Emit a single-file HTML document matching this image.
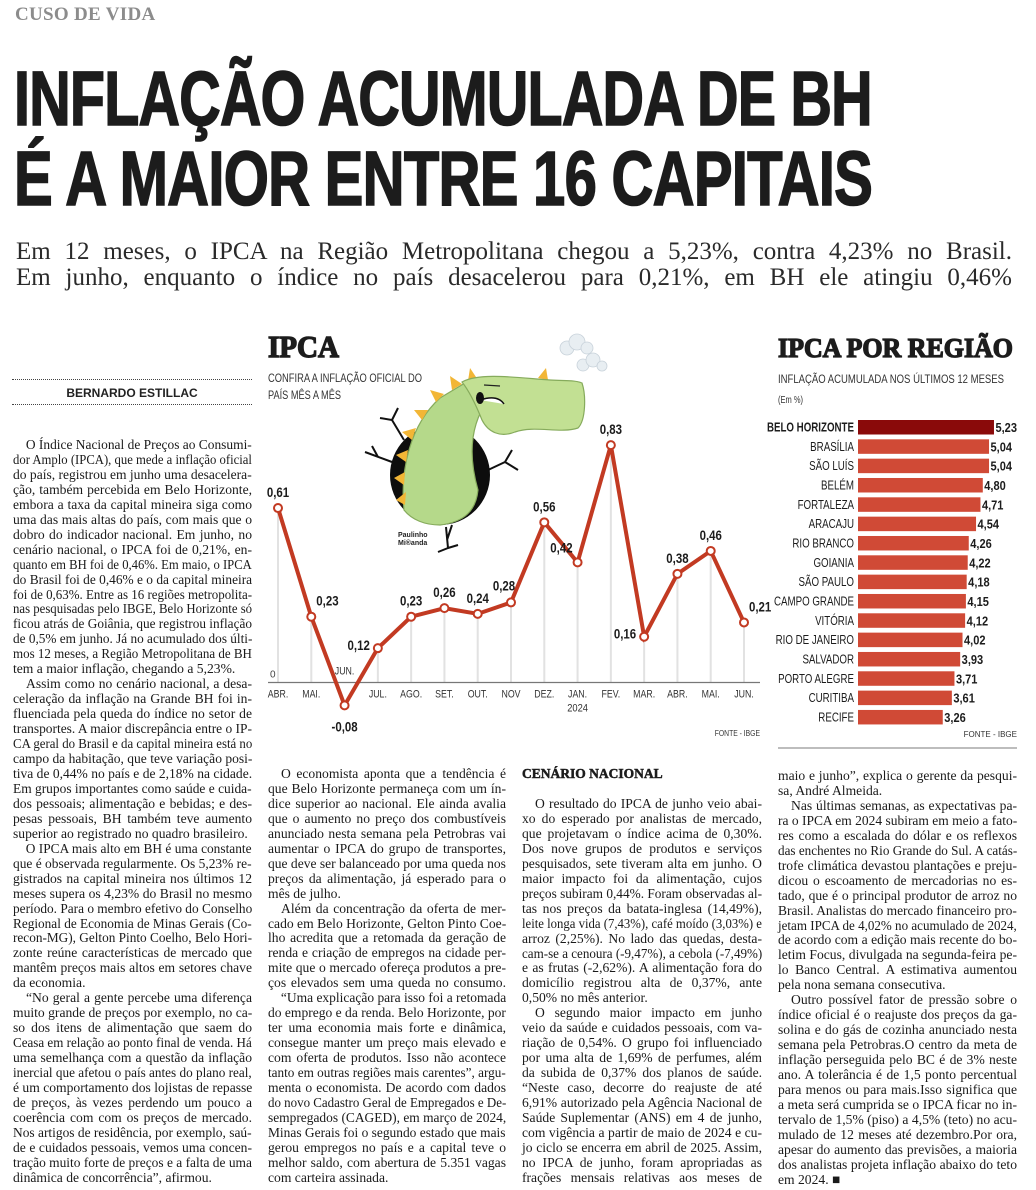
<!DOCTYPE html>
<html lang="pt-BR"><head><meta charset="utf-8"><title>Inflação acumulada de BH</title>
<style>
html,body{margin:0;padding:0;background:#fff;}
body{width:1036px;height:1190px;position:relative;overflow:hidden;}
.abs{position:absolute;}
.ln{white-space:nowrap;transform-origin:0 0;overflow:visible;}
.j{text-align:justify;text-align-last:justify;}
.in{padding-left:13px;box-sizing:border-box;}
.col{position:absolute;font-family:"Liberation Serif",serif;font-size:13.6px;line-height:14.95px;color:#1a1a1a;}
.sub{font-family:"Liberation Serif",serif;font-size:25px;line-height:26px;color:#2a2a2a;}
.hl{font-family:"Liberation Sans",sans-serif;font-weight:bold;font-size:77px;line-height:77px;color:#1c1c1c;letter-spacing:-1px;-webkit-text-stroke:1.6px #1c1c1c;}
svg text{font-family:"Liberation Sans",sans-serif;}
</style></head>
<body>

<div class="abs" style="left:15px;top:4px;font-family:'Liberation Serif',serif;font-weight:bold;font-size:19px;color:#8c8c8c;letter-spacing:0.3px">CUSO DE VIDA</div>

<div class="abs ln j hl" style="left:14px;top:61px;width:858px">INFLAÇÃO ACUMULADA DE BH</div>
<div class="abs ln j hl" style="left:14px;top:141px;width:858px">É A MAIOR ENTRE 16 CAPITAIS</div>

<div class="abs ln j sub" style="left:16px;top:239px;width:996px">Em 12 meses, o IPCA na Região Metropolitana chegou a 5,23%, contra 4,23% no Brasil.</div>
<div class="abs ln j sub" style="left:16px;top:265px;width:996px">Em junho, enquanto o índice no país desacelerou para 0,21%, em BH ele atingiu 0,46%</div>

<div class="abs" style="left:12px;top:379px;width:240px;border-top:1.5px dotted #444"></div>
<div class="abs" style="left:12px;top:386px;width:240px;text-align:center;font-family:'Liberation Sans',sans-serif;font-weight:bold;font-size:12px;color:#222">BERNARDO ESTILLAC</div>
<div class="abs" style="left:12px;top:404px;width:240px;border-top:1.5px dotted #444"></div>

<!-- Column 1 -->
<div class="col" style="left:13px;top:438px;width:239px">
<div>
<div class="ln j in">O Índice Nacional de Preços ao Consumi-</div>
<div class="ln j">dor Amplo (IPCA), que mede a inflação oficial</div>
<div class="ln j">do país, registrou em junho uma desacelera-</div>
<div class="ln j">ção, também percebida em Belo Horizonte,</div>
<div class="ln j">embora a taxa da capital mineira siga como</div>
<div class="ln j">uma das mais altas do país, com mais que o</div>
<div class="ln j">dobro do indicador nacional. Em junho, no</div>
<div class="ln j">cenário nacional, o IPCA foi de 0,21%, en-</div>
<div class="ln j">quanto em BH foi de 0,46%. Em maio, o IPCA</div>
<div class="ln j">do Brasil foi de 0,46% e o da capital mineira</div>
<div class="ln j">foi de 0,63%. Entre as 16 regiões metropolita-</div>
<div class="ln j">nas pesquisadas pelo IBGE, Belo Horizonte só</div>
<div class="ln j">ficou atrás de Goiânia, que registrou inflação</div>
<div class="ln j">de 0,5% em junho. Já no acumulado dos últi-</div>
<div class="ln j">mos 12 meses, a Região Metropolitana de BH</div>
<div class="ln">tem a maior inflação, chegando a 5,23%.</div>
</div>
<div>
<div class="ln j in">Assim como no cenário nacional, a desa-</div>
<div class="ln j">celeração da inflação na Grande BH foi in-</div>
<div class="ln j">fluenciada pela queda do índice no setor de</div>
<div class="ln j">transportes. A maior discrepância entre o IP-</div>
<div class="ln j">CA geral do Brasil e da capital mineira está no</div>
<div class="ln j">campo da habitação, que teve variação posi-</div>
<div class="ln j">tiva de 0,44% no país e de 2,18% na cidade.</div>
<div class="ln j">Em grupos importantes como saúde e cuida-</div>
<div class="ln j">dos pessoais; alimentação e bebidas; e des-</div>
<div class="ln j">pesas pessoais, BH também teve aumento</div>
<div class="ln">superior ao registrado no quadro brasileiro.</div>
</div>
<div>
<div class="ln j in">O IPCA mais alto em BH é uma constante</div>
<div class="ln j">que é observada regularmente. Os 5,23% re-</div>
<div class="ln j">gistrados na capital mineira nos últimos 12</div>
<div class="ln j">meses supera os 4,23% do Brasil no mesmo</div>
<div class="ln j">período. Para o membro efetivo do Conselho</div>
<div class="ln j">Regional de Economia de Minas Gerais (Co-</div>
<div class="ln j">recon-MG), Gelton Pinto Coelho, Belo Hori-</div>
<div class="ln j">zonte reúne características de mercado que</div>
<div class="ln j">mantêm preços mais altos em setores chave</div>
<div class="ln">da economia.</div>
</div>
<div>
<div class="ln j in">“No geral a gente percebe uma diferença</div>
<div class="ln j">muito grande de preços por exemplo, no ca-</div>
<div class="ln j">so dos itens de alimentação que saem do</div>
<div class="ln j">Ceasa em relação ao ponto final de venda. Há</div>
<div class="ln j">uma semelhança com a questão da inflação</div>
<div class="ln j">inercial que afetou o país antes do plano real,</div>
<div class="ln j">é um comportamento dos lojistas de repasse</div>
<div class="ln j">de preços, às vezes perdendo um pouco a</div>
<div class="ln j">coerência com com os preços de mercado.</div>
<div class="ln j">Nos artigos de residência, por exemplo, saú-</div>
<div class="ln j">de e cuidados pessoais, vemos uma concen-</div>
<div class="ln j">tração muito forte de preços e a falta de uma</div>
<div class="ln">dinâmica de concorrência”, afirmou.</div>
</div>
</div>

<!-- Column 2 -->
<div class="col" style="left:268px;top:767px;width:238px">
<div>
<div class="ln j in">O economista aponta que a tendência é</div>
<div class="ln j">que Belo Horizonte permaneça com um ín-</div>
<div class="ln j">dice superior ao nacional. Ele ainda avalia</div>
<div class="ln j">que o aumento no preço dos combustíveis</div>
<div class="ln j">anunciado nesta semana pela Petrobras vai</div>
<div class="ln j">aumentar o IPCA do grupo de transportes,</div>
<div class="ln j">que deve ser balanceado por uma queda nos</div>
<div class="ln j">preços da alimentação, já esperado para o</div>
<div class="ln">mês de julho.</div>
</div>
<div>
<div class="ln j in">Além da concentração da oferta de mer-</div>
<div class="ln j">cado em Belo Horizonte, Gelton Pinto Coe-</div>
<div class="ln j">lho acredita que a retomada da geração de</div>
<div class="ln j">renda e criação de empregos na cidade per-</div>
<div class="ln j">mite que o mercado ofereça produtos a pre-</div>
<div class="ln j">ços elevados sem uma queda no consumo.</div>
</div>
<div>
<div class="ln j in">“Uma explicação para isso foi a retomada</div>
<div class="ln j">do emprego e da renda. Belo Horizonte, por</div>
<div class="ln j">ter uma economia mais forte e dinâmica,</div>
<div class="ln j">consegue manter um preço mais elevado e</div>
<div class="ln j">com oferta de produtos. Isso não acontece</div>
<div class="ln j">tanto em outras regiões mais carentes”, argu-</div>
<div class="ln j">menta o economista. De acordo com dados</div>
<div class="ln j">do novo Cadastro Geral de Empregados e De-</div>
<div class="ln j">sempregados (CAGED), em março de 2024,</div>
<div class="ln j">Minas Gerais foi o segundo estado que mais</div>
<div class="ln j">gerou empregos no país e a capital teve o</div>
<div class="ln j">melhor saldo, com abertura de 5.351 vagas</div>
<div class="ln">com carteira assinada.</div>
</div>
</div>

<!-- Column 3 -->
<div class="abs" style="left:522px;top:766px;font-family:'Liberation Serif',serif;font-weight:bold;font-size:13.5px;color:#1c1c1c;-webkit-text-stroke:0.5px #1c1c1c">CENÁRIO NACIONAL</div>
<div class="col" style="left:522px;top:797px;width:240px">
<div>
<div class="ln j in">O resultado do IPCA de junho veio abai-</div>
<div class="ln j">xo do esperado por analistas de mercado,</div>
<div class="ln j">que projetavam o índice acima de 0,30%.</div>
<div class="ln j">Dos nove grupos de produtos e serviços</div>
<div class="ln j">pesquisados, sete tiveram alta em junho. O</div>
<div class="ln j">maior impacto foi da alimentação, cujos</div>
<div class="ln j">preços subiram 0,44%. Foram observadas al-</div>
<div class="ln j">tas nos preços da batata-inglesa (14,49%),</div>
<div class="ln j">leite longa vida (7,43%), café moído (3,03%) e</div>
<div class="ln j">arroz (2,25%). No lado das quedas, desta-</div>
<div class="ln j">cam-se a cenoura (-9,47%), a cebola (-7,49%)</div>
<div class="ln j">e as frutas (-2,62%). A alimentação fora do</div>
<div class="ln j">domicílio registrou alta de 0,37%, ante</div>
<div class="ln">0,50% no mês anterior.</div>
</div>
<div>
<div class="ln j in">O segundo maior impacto em junho</div>
<div class="ln j">veio da saúde e cuidados pessoais, com va-</div>
<div class="ln j">riação de 0,54%. O grupo foi influenciado</div>
<div class="ln j">por uma alta de 1,69% de perfumes, além</div>
<div class="ln j">da subida de 0,37% dos planos de saúde.</div>
<div class="ln j">“Neste caso, decorre do reajuste de até</div>
<div class="ln j">6,91% autorizado pela Agência Nacional de</div>
<div class="ln j">Saúde Suplementar (ANS) em 4 de junho,</div>
<div class="ln j">com vigência a partir de maio de 2024 e cu-</div>
<div class="ln j">jo ciclo se encerra em abril de 2025. Assim,</div>
<div class="ln j">no IPCA de junho, foram apropriadas as</div>
<div class="ln j">frações mensais relativas aos meses de</div>
</div>
</div>

<!-- Column 4 -->
<div class="col" style="left:778px;top:769px;width:239px">
<div>
<div class="ln j">maio e junho”, explica o gerente da pesqui-</div>
<div class="ln">sa, André Almeida.</div>
</div>
<div>
<div class="ln j in">Nas últimas semanas, as expectativas pa-</div>
<div class="ln j">ra o IPCA em 2024 subiram em meio a fato-</div>
<div class="ln j">res como a escalada do dólar e os reflexos</div>
<div class="ln j">das enchentes no Rio Grande do Sul. A catás-</div>
<div class="ln j">trofe climática devastou plantações e preju-</div>
<div class="ln j">dicou o escoamento de mercadorias no es-</div>
<div class="ln j">tado, que é o principal produtor de arroz no</div>
<div class="ln j">Brasil. Analistas do mercado financeiro pro-</div>
<div class="ln j">jetam IPCA de 4,02% no acumulado de 2024,</div>
<div class="ln j">de acordo com a edição mais recente do bo-</div>
<div class="ln j">letim Focus, divulgada na segunda-feira pe-</div>
<div class="ln j">lo Banco Central. A estimativa aumentou</div>
<div class="ln">pela nona semana consecutiva.</div>
</div>
<div>
<div class="ln j in">Outro possível fator de pressão sobre o</div>
<div class="ln j">índice oficial é o reajuste dos preços da ga-</div>
<div class="ln j">solina e do gás de cozinha anunciado nesta</div>
<div class="ln j">semana pela Petrobras.O centro da meta de</div>
<div class="ln j">inflação perseguida pelo BC é de 3% neste</div>
<div class="ln j">ano. A tolerância é de 1,5 ponto percentual</div>
<div class="ln j">para menos ou para mais.Isso significa que</div>
<div class="ln j">a meta será cumprida se o IPCA ficar no in-</div>
<div class="ln j">tervalo de 1,5% (piso) a 4,5% (teto) no acu-</div>
<div class="ln j">mulado de 12 meses até dezembro.Por ora,</div>
<div class="ln j">apesar do aumento das previsões, a maioria</div>
<div class="ln j">dos analistas projeta inflação abaixo do teto</div>
<div class="ln">em 2024. ■</div>
</div>
</div>

<svg id="charts" class="abs" style="left:0;top:0" width="1036" height="760" viewBox="0 0 1036 760">
  <text x="268" y="357" style="font-family:'Liberation Serif',serif" font-weight="bold" font-size="31" stroke="#1c1c1c" stroke-width="1.4" fill="#1c1c1c" textLength="71" lengthAdjust="spacingAndGlyphs">IPCA</text>
  <text x="268" y="382" font-size="12" fill="#333" textLength="154" lengthAdjust="spacingAndGlyphs">CONFIRA A INFLAÇÃO OFICIAL DO</text>
  <text x="268" y="399" font-size="12" fill="#333" textLength="73" lengthAdjust="spacingAndGlyphs">PAÍS MÊS A MÊS</text>

  <g>
    <g stroke="#111" stroke-width="2" fill="none">
      <path d="M392,462 L365,452 M378,457 L372,446 M404,440 L392,420 L380,418 M392,420 L398,408"/>
      <path d="M488,470 L505,462 L512,450 M505,462 L518,470"/>
      <path d="M446,527 L448,548 L438,552 M448,548 L458,545 M447,540 L452,525"/>
    </g>
    <circle cx="440" cy="475" r="50" fill="#0d0d0d"/>
    <path d="M404,510 C400,470 410,425 440,398 L470,380 L488,400 C470,425 468,455 478,490 C476,510 465,522 440,525 C425,525 412,520 404,510 Z" fill="#b5d98a" stroke="#86ab5c" stroke-width="1.2"/>
    <g fill="#f2b636">
      <path d="M405,505 L396,500 L406,492 Z"/><path d="M404,485 L394,478 L405,472 Z"/><path d="M406,462 L396,455 L408,450 Z"/><path d="M412,440 L402,432 L416,428 Z"/><path d="M422,420 L414,410 L428,410 Z"/><path d="M436,402 L430,390 L444,394 Z"/><path d="M452,390 L450,376 L462,384 Z"/><path d="M468,381 L470,368 L478,380 Z"/><path d="M538,378 L546,368 L548,380 Z"/>
    </g>
    <path d="M462,382 C480,372 520,378 550,380 C565,381 575,380 582,383 C586,395 586,420 578,428 C560,434 535,425 515,432 C500,438 488,432 482,420 C476,405 470,392 462,382 Z" fill="#c2e093" stroke="#86ab5c" stroke-width="1.2"/>
    <path d="M480,400 C492,396 500,398 504,404" stroke="#111" stroke-width="1.5" fill="#fff"/>
    <ellipse cx="480" cy="398" rx="4" ry="6" fill="#111"/>
    <path d="M484,385 L500,386" stroke="#222" stroke-width="1.2"/>
    <g fill="#e8eef2" stroke="#c8d2da" stroke-width="0.8">
      <circle cx="567" cy="348" r="7"/><circle cx="577" cy="342" r="8"/><circle cx="587" cy="348" r="6"/>
      <circle cx="583" cy="365" r="6"/><circle cx="593" cy="360" r="7"/><circle cx="602" cy="366" r="5"/>
    </g>
    <text x="398" y="537" font-size="7" font-weight="bold" fill="#222">Paulinho</text>
    <text x="398" y="545" font-size="7" font-weight="bold" fill="#222">Mi®anda</text>
  </g>

  <g id="lineChart"></g>

  <text x="778" y="357" style="font-family:'Liberation Serif',serif" font-weight="bold" font-size="27" stroke="#1c1c1c" stroke-width="1.3" fill="#1c1c1c" textLength="235" lengthAdjust="spacingAndGlyphs">IPCA POR REGIÃO</text>
  <text x="778" y="383" font-size="12" fill="#333" textLength="226" lengthAdjust="spacingAndGlyphs">INFLAÇÃO  ACUMULADA NOS ÚLTIMOS 12 MESES</text>
  <text x="778" y="403" font-size="10" fill="#333" textLength="25" lengthAdjust="spacingAndGlyphs">(Em %)</text>
  <g id="barChart"></g>
  <text x="1017" y="737" font-size="8" fill="#333" text-anchor="end">FONTE - IBGE</text>
  <rect x="778" y="747" width="239" height="2" fill="#bdbdbd"/>
</svg>

<script>
// ---- Line chart data ----
const months = ['ABR.','MAI.','JUN.','JUL.','AGO.','SET.','OUT.','NOV','DEZ.','JAN.','FEV.','MAR.','ABR.','MAI.','JUN.'];
const ipcaValues = [0.61,0.23,-0.08,0.12,0.23,0.26,0.24,0.28,0.56,0.42,0.83,0.16,0.38,0.46,0.21];
const valueLabels = ['0,61','0,23','-0,08','0,12','0,23','0,26','0,24','0,28','0,56','0,42','0,83','0,16','0,38','0,46','0,21'];
const labelSides = ['above','right','below','left','above','above','above','aboveleft','above','left','above','left','above','above','right'];
const yearLabels = ['','','','','','','','','','2024','','','','',''];

// ---- Bar chart data ----
const regions = ['BELO HORIZONTE','BRASÍLIA','SÃO LUÍS','BELÉM','FORTALEZA','ARACAJU','RIO BRANCO','GOIANIA','SÃO PAULO','CAMPO GRANDE','VITÓRIA','RIO DE JANEIRO','SALVADOR','PORTO ALEGRE','CURITIBA','RECIFE'];
const accumRates = [5.23,5.04,5.04,4.80,4.71,4.54,4.26,4.22,4.18,4.15,4.12,4.02,3.93,3.71,3.61,3.26];

const NS = 'http://www.w3.org/2000/svg';
function mk(tag, attrs, parent){ const e=document.createElementNS(NS,tag); for(const k in attrs) e.setAttribute(k,attrs[k]); parent.appendChild(e); return e; }
function fmt(v){ return v.toFixed(2).replace('.',','); }

const lx = i => 278 + i * (466 / (months.length - 1));
const ly = v => 682.5 - v * 286;
const lc = document.getElementById('lineChart');

ipcaValues.forEach((v,i)=>{
  if (v > 0) {
    const g = mk('line',{x1:lx(i),x2:lx(i),y1:ly(v),y2:ly(0),stroke:'#e2e2e2','stroke-width':2},lc);
    
    
  }
});
const zl = mk('line',{x1:268,x2:760,y1:ly(0),y2:ly(0),stroke:'#777','stroke-width':1.2},lc);


const zt = mk('text',{x:270,y:ly(0)-5,'font-size':10,fill:'#444'},lc);
zt.textContent='0';



months.forEach((m,i)=>{
  const neg = ipcaValues[i] < 0;
  const t = mk('text',{transform:`translate(${lx(i)},${neg ? ly(0)-8 : ly(0)+15}) scale(0.8,1)`,'text-anchor':'middle','font-size':11,fill:'#333'},lc);
  t.textContent = m;
  
  
  if (yearLabels[i]) {
    const y = mk('text',{transform:`translate(${lx(i)},${ly(0)+29}) scale(0.85,1)`,'text-anchor':'middle','font-size':11,fill:'#333'},lc);
    y.textContent = yearLabels[i];
    
    
  }
});

const pts = ipcaValues.map((v,i)=>lx(i)+','+ly(v)).join(' ');
const pl = mk('polyline',{points:pts,fill:'none',stroke:'#c23a22','stroke-width':4,'stroke-linejoin':'miter'},lc);



ipcaValues.forEach((v,i)=>{
  const c = mk('circle',{cx:lx(i),cy:ly(v),r:4,fill:'#fff',stroke:'#c23a22','stroke-width':2},lc);
  
  
  let x = lx(i), y = ly(v) - 11, anchor = 'middle';
  const s = labelSides[i];
  if (s === 'below') { y = ly(v) + 26; }
  else if (s === 'right') { x = lx(i) + 5; y = ly(v) - 11; anchor = 'start'; }
  else if (s === 'left') { x = lx(i) - 5; y = ly(v) - 10; anchor = 'end'; }
  else if (s === 'aboveleft') { x = lx(i) - 7; y = ly(v) - 12; }
  if (s === 'left' && v < 0.2) { y = ly(v) + 2; x = lx(i) - 8; }
  const t = mk('text',{transform:`translate(${x},${y}) scale(0.85,1)`,'text-anchor':anchor,'font-size':13.5,'font-weight':'bold',fill:'#1c1c1c'},lc);
  t.textContent = valueLabels[i];
  
  
});
const src = mk('text',{transform:'translate(760,736) scale(0.85,1)','text-anchor':'end','font-size':8,fill:'#333'},lc);
src.textContent='FONTE - IBGE';



const bx = v => 858 + v * 26;
const by = i => 420 + i * 19.33;
const bc = document.getElementById('barChart');
regions.forEach((r,i)=>{
  const first = i === 0;
  const b = mk('rect',{x:bx(0),y:by(i),width:bx(accumRates[i])-bx(0),height:14.5,fill:first?'#8a0a0a':'#d04a36'},bc);
  
  
  const l = mk('text',{transform:`translate(854,${by(i)+11.5}) scale(0.78,1)`,'text-anchor':'end','font-size':12.5,'font-weight':first?'bold':'normal',fill:'#1c1c1c'},bc);
  l.textContent = r;
  
  
  const v = mk('text',{transform:`translate(${bx(accumRates[i])+1.5},${by(i)+12}) scale(0.85,1)`,'font-size':13,'font-weight':'bold',fill:'#1c1c1c'},bc);
  v.textContent = fmt(accumRates[i]);
  
  
});

document.querySelectorAll('.ln').forEach(el=>{
  const w = el.clientWidth, sw = el.scrollWidth;
  if (sw > w + 0.5) el.style.transform = 'scaleX(' + (w/sw) + ')';
});
</script>
</body></html>
